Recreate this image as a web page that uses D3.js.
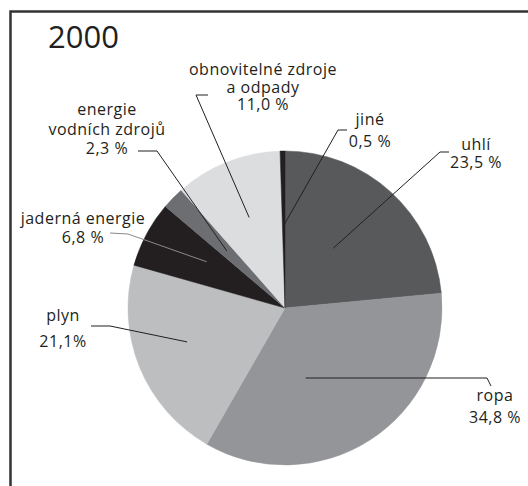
<!DOCTYPE html>
<html>
<head>
<meta charset="utf-8">
<script src="https://cdn.jsdelivr.net/npm/d3@7"></script>
<style>
  body { margin: 0; background: #fff; }
  svg { display: block; }
  text { font-family: "Open Sans", sans-serif; fill: #231f20; }
</style>
</head>
<body>
<svg width="528" height="486"></svg>
<script>
// data, clockwise from 12 o'clock
var categories = ['uhlí', 'ropa', 'plyn', 'jaderná energie', 'energie vodních zdrojů', 'obnovitelné zdroje a odpady', 'jiné'];
var shares = [23.5, 34.8, 21.1, 6.8, 2.3, 11.0, 0.5];
var labelLines = [
    ['uhlí', '23,5 %'],
    ['ropa', '34,8 %'],
    ['plyn', '21,1%'],
    ['jaderná energie', '6,8 %'],
    ['energie', 'vodních zdrojů', '2,3 %'],
    ['obnovitelné zdroje', 'a odpady', '11,0 %'],
    ['jiné', '0,5 %']
];
var title = '2000';

var colors = ['#58595b', '#939598', '#bcbec0', '#231f20', '#6d6e71', '#dcddde', '#231f20'];

// label layout: text anchor point, line step, leader start + elbow,
// and where the leader enters the slice (t = along the slice, k = share of radius)
var labelPos = [
    { x: 476, y: 150, dy: 18, from: [449, 152], elbow: [440, 152], t: 0.46, k: 0.49 },
    { x: 495, y: 401, dy: 22, from: [491, 386], elbow: [487, 378], t: 0.63, k: 0.465 },
    { x: 63,  y: 321, dy: 26, from: [91, 326],  elbow: [110, 326], t: 0.54, k: 0.66 },
    { x: 83,  y: 224, dy: 19, from: [110, 233], elbow: [128, 234], t: 0.60, k: 0.58, stroke: '#8a8a8a' },
    { x: 107, y: 115, dy: 19.5, from: [138, 151], elbow: [157, 151], t: 0.50, k: 0.52 },
    { x: 263, y: 75,  dy: 17.5, from: [208, 95], elbow: [196, 95], t: 0.50, k: 0.62 },
    { x: 370, y: 125, dy: 22, from: [347, 130], elbow: [338, 130], t: 0.30, k: 0.52 }
];

var width = 528, height = 486;
var cx = 285, cy = 308, radius = 157;

var svg = d3.select('svg');

// frame (top + left edge only visible)
svg.append('path')
    .attr('d', 'M10.5,' + height + 'V11.5H' + width)
    .attr('fill', 'none')
    .attr('stroke', '#333')
    .attr('stroke-width', 2.5);

svg.append('text')
    .attr('x', 48)
    .attr('y', 48)
    .attr('font-size', 31)
    .text(title);

var pie = d3.pie().sort(null).value(function (d) { return d; });
var arc = d3.arc().innerRadius(0).outerRadius(radius);
var arcs = pie(shares);

var g = svg.append('g').attr('transform', 'translate(' + cx + ',' + cy + ')');

g.selectAll('path.slice')
    .data(arcs)
    .enter()
    .append('path')
    .attr('class', 'slice')
    .attr('d', arc)
    .attr('fill', function (d, i) { return colors[i]; })
    .attr('stroke', function (d, i) { return colors[i]; })
    .attr('stroke-width', 0.5);

// leader lines
function innerPoint(d, p) {
    var a = d.startAngle + p.t * (d.endAngle - d.startAngle);
    var r = p.k * radius;
    return [cx + r * Math.sin(a), cy - r * Math.cos(a)];
}

svg.append('g')
    .selectAll('path.leader')
    .data(arcs)
    .enter()
    .append('path')
    .attr('class', 'leader')
    .attr('fill', 'none')
    .attr('stroke', function (d, i) { return labelPos[i].stroke || '#231f20'; })
    .attr('stroke-width', 1)
    .attr('d', function (d, i) {
        var p = labelPos[i];
        return d3.line()([p.from, p.elbow, innerPoint(d, p)]);
    });

// labels
var labels = svg.append('g')
    .selectAll('text.label')
    .data(labelLines)
    .enter()
    .append('text')
    .attr('class', 'label')
    .attr('font-size', 16)
    .attr('letter-spacing', 0.5)
    .attr('text-anchor', 'middle');

labels.each(function (lines, i) {
    var p = labelPos[i];
    d3.select(this).selectAll('tspan')
        .data(lines)
        .enter()
        .append('tspan')
        .attr('x', p.x)
        .attr('y', function (l, j) { return p.y + j * p.dy; })
        .text(function (l) { return l; });
});
</script>
</body>
</html>
